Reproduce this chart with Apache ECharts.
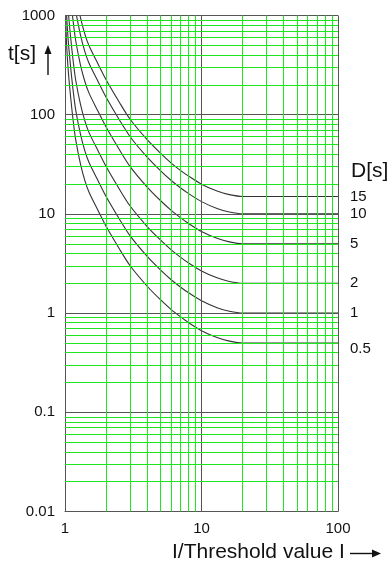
<!DOCTYPE html>
<html>
<head>
<meta charset="utf-8">
<script src="https://cdn.jsdelivr.net/npm/echarts@6/dist/echarts.min.js"></script>
<style>
html, body { margin: 0; padding: 0; background: #fff; }
#main { width: 390px; height: 562px; }
</style>
</head>
<body>
<div id="main"></div>
<script>
// I / threshold value (x axis)
var current = [1.01, 1.02, 1.03, 1.05, 1.07, 1.1, 1.15, 1.2, 1.3, 1.4, 1.5, 1.75, 2, 2.5, 3, 4, 5, 6, 7, 8, 10, 13, 16, 20, 100];

// trip time t[s] for each time dial D[s]
var tD05 = [1100, 650, 475, 310, 225, 150, 85, 55, 31.5, 21.5, 16.5, 10.75, 7.5, 4.45, 3.0, 1.865, 1.365, 1.085, 0.92, 0.805, 0.665, 0.567, 0.522, 0.5, 0.5];
var tD1  = [2200, 1300, 950, 620, 450, 300, 170, 110, 63, 43, 33, 21.5, 15, 8.9, 6.0, 3.73, 2.73, 2.17, 1.835, 1.61, 1.33, 1.133, 1.043, 1, 1];
var tD2  = [4400, 2600, 1900, 1240, 900, 600, 340, 220, 126, 86, 66, 43, 30, 17.8, 12, 7.46, 5.46, 4.34, 3.67, 3.22, 2.66, 2.266, 2.086, 2, 2];
var tD5  = [11000, 6500, 4750, 3100, 2250, 1500, 850, 550, 315, 215, 165, 107.5, 75, 44.5, 30, 18.65, 13.65, 10.85, 9.18, 8.05, 6.65, 5.67, 5.22, 5, 5];
var tD10 = [22000, 13000, 9500, 6200, 4500, 3000, 1700, 1100, 630, 430, 330, 215, 150, 89, 60, 37.3, 27.3, 21.7, 18.35, 16.1, 13.3, 11.33, 10.43, 10, 10];
var tD15 = [33000, 19500, 14250, 9300, 6750, 4500, 2550, 1650, 945, 645, 495, 322.5, 225, 133.5, 90, 55.95, 40.95, 32.55, 27.5, 24.15, 19.95, 17, 15.65, 15, 15];

var dNames = ['0.5', '1', '2', '5', '10', '15'];
var curves = [tD05, tD1, tD2, tD5, tD10, tD15];

// green minor grid
var xMinor = [2, 3, 4, 5, 6, 7, 8, 9, 20, 30, 40, 50, 60, 70, 80, 90];
var yMinor = [0.02, 0.03, 0.04, 0.05, 0.06, 0.07, 0.08, 0.09,
              0.2, 0.3, 0.4, 0.5, 0.6, 0.7, 0.8, 0.9,
              2, 3, 4, 5, 6, 7, 8, 9,
              20, 30, 40, 50, 60, 70, 80, 90,
              200, 300, 400, 500, 600, 700, 800, 900];

var font = '"Liberation Sans", Arial, sans-serif';

var myChart = echarts.init(document.getElementById('main'));

var gridLines = [];
for (var i = 0; i < xMinor.length; i++) gridLines.push({ xAxis: xMinor[i] });
for (var j = 0; j < yMinor.length; j++) gridLines.push({ yAxis: yMinor[j] });

var series = [];
// empty series only to carry the green grid lines
series.push({
    type: 'line',
    data: [],
    silent: true,
    z: 1,
    markLine: {
        silent: true,
        symbol: 'none',
        animation: false,
        label: { show: false },
        lineStyle: { color: '#1ee61e', width: 1, type: 'solid' },
        data: gridLines
    }
});

for (var k = 0; k < curves.length; k++) {
    var pts = [];
    for (var m = 0; m < current.length; m++) {
        pts.push([current[m], curves[k][m]]);
    }
    series.push({
        name: dNames[k],
        type: 'line',
        data: pts,
        showSymbol: false,
        smooth: 0.3,
        z: 3,
        lineStyle: { color: '#333', width: 1.1 },
        endLabel: {
            show: true,
            formatter: dNames[k],
            distance: 12,
            offset: k == 0 ? [0, 6] : [0, 0],
            color: '#111',
            fontSize: 15,
            fontFamily: font
        }
    });
}

function plainNum(v) {
    return String(parseFloat(Number(v).toPrecision(6)));
}

var option = {
    animation: false,
    backgroundColor: '#fff',
    grid: { left: 65, right: 52, top: 15.5, bottom: 50.5 },
    xAxis: {
        type: 'log',
        logBase: 10,
        min: 1,
        max: 100,
        z: 4,
        axisLine: { lineStyle: { color: '#555', width: 1 } },
        axisTick: { show: false },
        axisLabel: { color: '#111', fontSize: 15, fontFamily: font, margin: 10, formatter: plainNum },
        splitLine: { show: true, lineStyle: { color: '#555', width: 1 } }
    },
    yAxis: {
        type: 'log',
        logBase: 10,
        min: 0.01,
        max: 1000,
        z: 4,
        axisLine: { lineStyle: { color: '#555', width: 1 } },
        axisTick: { show: false },
        axisLabel: { color: '#111', fontSize: 15, fontFamily: font, margin: 10, formatter: plainNum },
        splitLine: { show: true, lineStyle: { color: '#555', width: 1 } }
    },
    graphic: [
        { type: 'text', left: 8, top: 44, style: { text: 't[s]', font: '21px ' + font, fill: '#111' } },
        { type: 'line', shape: { x1: 48, y1: 75, x2: 48, y2: 53 }, style: { stroke: '#111', lineWidth: 1.4 } },
        { type: 'polygon', shape: { points: [[44.5, 54], [51.5, 54], [48, 45]] }, style: { fill: '#111' } },
        { type: 'text', left: 351, top: 161, style: { text: 'D[s]', font: '21px ' + font, fill: '#111' } },
        { type: 'text', left: 172, top: 542, style: { text: 'I/Threshold value I', font: '21px ' + font, fill: '#111' } },
        { type: 'line', shape: { x1: 350, y1: 553.5, x2: 373, y2: 553.5 }, style: { stroke: '#111', lineWidth: 1.4 } },
        { type: 'polygon', shape: { points: [[372, 549.5], [372, 557.5], [381, 553.5]] }, style: { fill: '#111' } }
    ],
    series: series
};

myChart.setOption(option);
</script>
</body>
</html>
